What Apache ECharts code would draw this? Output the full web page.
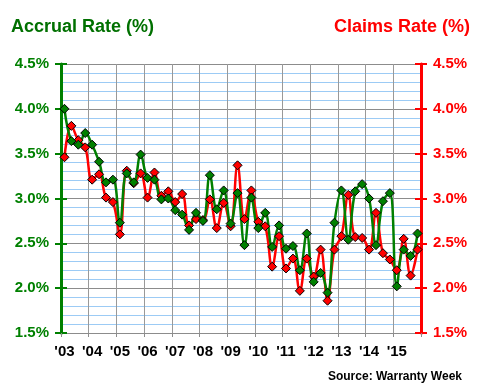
<!DOCTYPE html>
<html><head><meta charset="utf-8">
<script src="https://cdn.jsdelivr.net/npm/echarts@6/dist/echarts.min.js"></script>
<style>html,body{margin:0;padding:0;background:#fff}#c{width:480px;height:390px}</style>
</head><body><div id="c"></div>
<script>
const yearLabels = ["'03","'04","'05","'06","'07","'08","'09","'10","'11","'12","'13","'14","'15"];
const quarters = ["Q1","Q2","Q3","Q4"];
const accrualRate = [
  4.00,3.64,3.60,3.73, 3.60,3.41,3.18,3.21, 2.73,3.28,3.18,3.49, 3.23,3.21,2.99,3.00,
  2.87,2.82,2.65,2.84, 2.75,3.26,2.88,3.09, 2.72,3.06,2.48,3.01, 2.67,2.84,2.46,2.70,
  2.44,2.47,2.20,2.61, 2.07,2.17,1.95,2.73, 3.09,2.54,3.08,3.16, 3.00,2.48,2.97,3.06,
  2.02,2.43,2.36,2.61];
const claimsRate = [
  3.46,3.81,3.65,3.57, 3.21,3.27,3.01,2.96, 2.60,3.31,3.17,3.28, 3.01,3.29,3.03,3.08,
  2.96,3.05,2.70,2.77, 2.76,2.99,2.67,2.95, 2.69,3.37,2.77,3.09, 2.74,2.69,2.24,2.58,
  2.22,2.33,1.97,2.33, 2.13,2.43,1.86,2.43, 2.58,3.04,2.57,2.56, 2.43,2.84,2.39,2.32,
  2.20,2.55,2.14,2.43];
const yMin = 1.5, yMax = 4.5, yStep = 0.5;

const categories = [];
yearLabels.forEach(y => quarters.forEach(q => categories.push(y + ' ' + q)));

const GREEN = '#008000', RED = '#FF0000';
const chart = echarts.init(document.getElementById('c'), null, {renderer: 'canvas'});
const fontFam = '"Liberation Sans", Arial, sans-serif';

function yAx(pos, color, main) {
  return {
    type: 'value', position: pos, min: yMin, max: yMax, interval: yStep,
    axisLine: {show: main, lineStyle: {color: color, width: 3}},
    axisTick: {show: true, inside: !main, length: 6, lineStyle: {color: color, width: 2}},
    axisLabel: {show: main, margin: 12, color: color, fontFamily: fontFam, fontWeight: 'bold', fontSize: 15,
      formatter: v => v.toFixed(1) + '%'},
    splitLine: {show: main && pos === 'left', lineStyle: {color: '#8c8c8c', width: 1}},
    minorTick: {show: false, splitNumber: 5},
    minorSplitLine: {show: main && pos === 'left', lineStyle: {color: '#9ccbf5', width: 1}}
  };
}

chart.setOption({
  animation: false,
  backgroundColor: '#fff',
  textStyle: {fontFamily: fontFam},
  grid: {left: 61, right: 59, top: 64, bottom: 57, containLabel: false},
  title: [
    {text: 'Accrual Rate (%)', left: 6, top: 13, textStyle: {color: '#007000', fontSize: 18, fontWeight: 'bold', fontFamily: fontFam}},
    {text: 'Claims Rate (%)', right: 5, top: 13, textStyle: {color: RED, fontSize: 18, fontWeight: 'bold', fontFamily: fontFam}},
    {text: 'Source: Warranty Week', right: 13, bottom: 2, textStyle: {color: '#000', fontSize: 12, fontWeight: 'bold', fontFamily: fontFam}}
  ],
  xAxis: {
    type: 'category', data: categories, boundaryGap: true,
    axisLine: {show: true, lineStyle: {color: '#8c8c8c', width: 1}},
    axisTick: {show: true, interval: 3, length: 4, lineStyle: {color: '#8c8c8c'}},
    axisLabel: {interval: 3, margin: 11, color: '#000', fontWeight: 'bold', fontSize: 15, fontFamily: fontFam,
      formatter: v => v.split(' ')[0]},
    splitLine: {show: true, interval: 3, lineStyle: {color: '#999', width: 1}}
  },
  yAxis: [yAx('left', GREEN, true), yAx('right', RED, true), yAx('left', GREEN, false), yAx('right', RED, false)],
  series: [
    {name: 'Claims Rate', type: 'line', yAxisIndex: 1, data: claimsRate, smooth: 0.4,
      showSymbol: true, showAllSymbol: true,
      lineStyle: {color: RED, width: 2.5}, symbol: 'diamond', symbolSize: 9,
      itemStyle: {color: RED, borderColor: '#000', borderWidth: 1}},
    {name: 'Accrual Rate', type: 'line', yAxisIndex: 0, data: accrualRate, smooth: 0.4,
      showSymbol: true, showAllSymbol: true,
      lineStyle: {color: GREEN, width: 2.5}, symbol: 'diamond', symbolSize: 9,
      itemStyle: {color: GREEN, borderColor: '#000', borderWidth: 1}}
  ]
});
</script></body></html>
